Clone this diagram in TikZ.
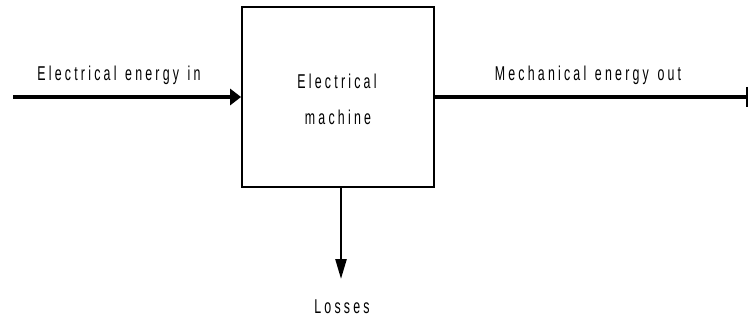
\documentclass[tikz,border=0pt]{standalone}
\usepackage{fontspec}
\setmainfont{Liberation Sans}[FakeStretch=0.62,LetterSpace=16,WordSpace=1.3]
\usetikzlibrary{arrows.meta}
\begin{document}
\begin{tikzpicture}[x=1pt,y=-1pt,
  lbl/.style={font=\fontsize{20}{24}\selectfont, inner sep=0pt, anchor=base},
  flow/.style={line width=4pt},
  blockbox/.style={draw, line width=1.8pt, minimum width=192pt, minimum height=180pt, inner sep=0pt}]
\useasboundingbox (0,0) rectangle (751,320);
\node[blockbox] (m) at (338,97) {};
\node[lbl] (t1) at (337,89) {Electrical};
\node[lbl] (t2) at (338,125) {machine};
\coordinate (s) at (13,97);
\coordinate (e) at (748,97);
\coordinate (dtop) at (341,187);
\coordinate (dbot) at (341,279);
\draw[flow, -{Triangle[length=11pt,width=16pt]}] (s) -- (m.west);
\draw[flow, -{Bar[width=20pt,line width=2pt]}] (m.east) -- (e);
\draw[line width=2.5pt, -{Triangle[length=20pt,width=11pt]}] (dtop) -- (dbot);
\node[lbl] (lin) at (119,81) {Electrical energy in};
\node[lbl] (lout) at (588,81) {Mechanical energy out};
\node[lbl] (loss) at (342,313) {Losses};
\end{tikzpicture}
\end{document}
